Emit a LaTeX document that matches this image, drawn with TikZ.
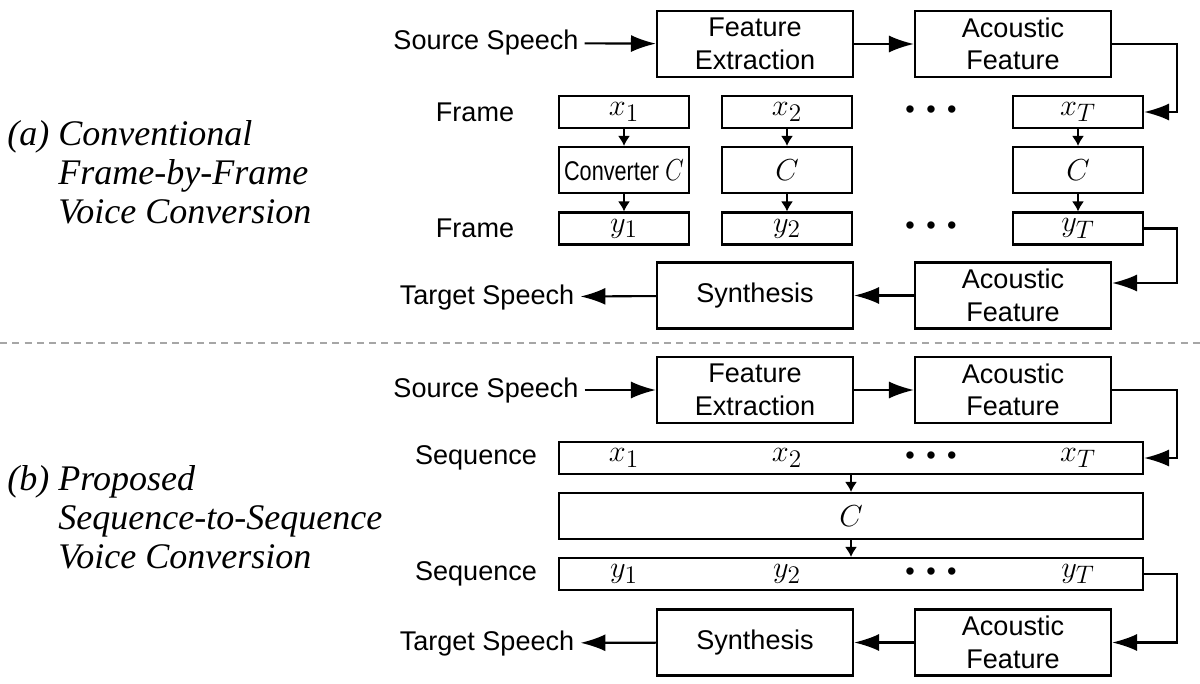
\documentclass[tikz,border=0pt]{standalone}
\usepackage{fontspec}
\setmainfont{Liberation Sans}
\newfontfamily\titlefont{Liberation Serif}
\usetikzlibrary{arrows.meta}
\DeclareMathSizes{17}{17}{14}{11}

\newcommand{\threedots}{\textbullet\kern6.5pt\textbullet\kern6.5pt\textbullet}

\begin{document}
\begin{tikzpicture}[x=0.02cm,y=-0.02cm,line join=miter,
    font=\fontsize{15.4}{18.5}\selectfont,
    box/.style={draw,line width=1.2pt,inner sep=0pt,align=center},
    wide/.style={box,minimum width=3.92cm,minimum height=1.32cm},
    cell/.style={box,minimum width=2.6cm,minimum height=0.64cm},
    conv/.style={box,minimum width=2.6cm,minimum height=0.92cm},
    seq/.style={box,minimum width=11.68cm,minimum height=0.64cm},
    mth/.style={font=\fontsize{17}{20}\selectfont},
    flow/.style={line width=1.2pt,-{Latex[length=0.5cm,width=0.34cm]}},
    tick/.style={line width=0.9pt,-{Latex[length=0.2cm,width=0.24cm]}},
    title/.style={font=\titlefont\itshape\fontsize{20.5}{22.2}\selectfont,align=left,anchor=west,inner sep=0pt}]

\useasboundingbox (0,0) rectangle (1200,683);

\node[title] (ta) at (7,172) {(a) Conventional\\\hphantom{(a)}\ Frame-by-Frame\\\hphantom{(a)}\ Voice Conversion};
\node (srca) at (486,43) {Source Speech};
\node[wide] (fea) at (755,44) {Feature\\Extraction};
\node[wide] (afa) at (1013,44) {Acoustic\\Feature};
\draw[flow] (srca) -- (fea);
\draw[flow] (fea) -- (afa);

\node (fra1) at (475,112) {Frame};
\node (fra2) at (475,228.5) {Frame};
\foreach \n/\cx/\ct in {1/624/{\scalebox{0.8}[1]{Converter \fontsize{17}{20}\selectfont$C$}},2/787/{\fontsize{17}{20}\selectfont$C$},T/1078/{\fontsize{17}{20}\selectfont$C$}} {
    \node[cell,mth] (xa\n) at (\cx,112) {$x_{\n}$};
    \node[conv] (ca\n) at (\cx,170) {\ct};
    \node[cell,mth] (ya\n) at (\cx,228.5) {$y_{\n}$};
    \draw[tick] (xa\n) -- (ca\n);
    \draw[tick] (ca\n) -- (ya\n);
}
\node (dxa) at (931,112) {\threedots};
\node (dya) at (931,228.5) {\threedots};
\draw[flow] (afa.east) -- ++(65,0) |- (xaT.east);

\node[wide] (afa2) at (1013,295.5) {Acoustic\\Feature};
\node[wide] (sya) at (755,295.5) {Synthesis};
\node (tga) at (487,297) {Target Speech};
\draw[flow] (yaT.east) -- ++(33,0) |- ([yshift=0.25cm]afa2.east);
\draw[flow] (afa2) -- (sya);
\draw[flow] (sya) -- (tga);

\draw[gray!70,line width=0.6pt,dash pattern=on 4pt off 3pt] (0,343) -- (1200,343);

\node[title] (tb) at (7,517) {(b) Proposed\\\hphantom{(b)}\ Sequence-to-Sequence\\\hphantom{(b)}\ Voice Conversion};
\node (srcb) at (486,390) {Source Speech};
\node[wide] (feb) at (755,390) {Feature\\Extraction};
\node[wide] (afb) at (1013,390) {Acoustic\\Feature};
\draw[flow] (srcb) -- (feb);
\draw[flow] (feb) -- (afb);

\node (sqb1) at (476,458) {Sequence};
\node (sqb2) at (476,574) {Sequence};
\node[seq] (xb) at (851,458) {};
\node[seq,mth,minimum height=0.92cm] (cb) at (851,516) {$C$};
\node[seq] (yb) at (851,574) {};
\foreach \n/\cx in {1/624,2/787,T/1078} {
    \node[mth] (xb\n) at (\cx,458) {$x_{\n}$};
    \node[mth] (yb\n) at (\cx,574) {$y_{\n}$};
}
\node (dxb) at (931,458) {\threedots};
\node (dyb) at (931,574) {\threedots};
\draw[tick] (xb) -- (cb);
\draw[tick] (cb) -- (yb);
\draw[flow] (afb.east) -- ++(65,0) |- (xb.east);

\node[wide] (afb2) at (1013,642.5) {Acoustic\\Feature};
\node[wide] (syb) at (755,642.5) {Synthesis};
\node (tgb) at (487,643) {Target Speech};
\draw[flow] (yb.east) -- ++(33,0) |- (afb2.east);
\draw[flow] (afb2) -- (syb);
\draw[flow] (syb) -- (tgb);

\end{tikzpicture}
\end{document}
